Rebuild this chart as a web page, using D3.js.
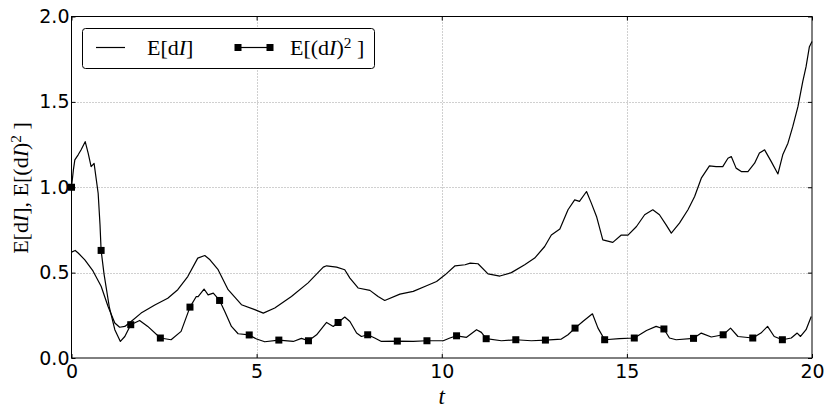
<!DOCTYPE html>
<html>
<head>
<meta charset="utf-8">
<script src="https://cdn.jsdelivr.net/npm/d3@7"></script>
<style>
  body { margin: 0; background: #fff; }
  svg { display: block; }
</style>
</head>
<body>
<svg id="chart" width="831" height="415"></svg>
<script>
// E[dI]
const meanT = [0, 0.10, 0.18, 0.36, 0.58, 0.80, 0.99, 1.17, 1.30, 1.44, 1.61, 1.88, 2.25, 2.60, 2.87, 3.14, 3.41, 3.60, 3.74, 3.96,
  4.23, 4.59, 4.95, 5.18, 5.49, 5.94, 6.39, 6.80, 6.89, 7.16, 7.38, 7.52, 7.74, 8.06, 8.28, 8.46, 8.87, 9.23, 9.59, 9.86,
  10.09, 10.36, 10.63, 10.77, 10.98, 11.25, 11.57, 11.88, 12.24, 12.51, 12.78, 12.96, 13.19, 13.41, 13.59, 13.72, 13.91, 14.04, 14.18, 14.35,
  14.62, 14.85, 15.03, 15.26, 15.48, 15.70, 15.88, 16.06, 16.20, 16.42, 16.65, 16.83, 17.01, 17.23, 17.41, 17.59, 17.73, 17.82, 17.95, 18.09,
  18.27, 18.45, 18.58, 18.72, 18.90, 19.08, 19.21, 19.35, 19.48, 19.62, 19.75, 19.84, 19.93, 20.00]
const meanV = [0.62, 0.63, 0.615, 0.575, 0.51, 0.42, 0.30, 0.205, 0.18, 0.185, 0.214, 0.263, 0.31, 0.35, 0.40, 0.477, 0.585, 0.60, 0.575, 0.517,
  0.40, 0.312, 0.283, 0.263, 0.293, 0.36, 0.44, 0.532, 0.54, 0.532, 0.517, 0.468, 0.41, 0.396, 0.36, 0.337, 0.374, 0.39, 0.423, 0.448,
  0.487, 0.54, 0.546, 0.556, 0.552, 0.493, 0.48, 0.50, 0.546, 0.585, 0.653, 0.72, 0.755, 0.868, 0.926, 0.917, 0.975, 0.907, 0.829, 0.692,
  0.677, 0.72, 0.72, 0.77, 0.839, 0.868, 0.839, 0.78, 0.731, 0.79, 0.868, 0.946, 1.053, 1.125, 1.121, 1.121, 1.17, 1.18, 1.112, 1.092,
  1.092, 1.141, 1.20, 1.219, 1.15, 1.078, 1.19, 1.258, 1.355, 1.472, 1.618, 1.706, 1.823, 1.853]

// E[(dI)^2] line points between the markers
const sqT = [0.05, 0.09, 0.18, 0.26, 0.37, 0.45, 0.53, 0.61, 0.72, 0.77, 0.88, 1.02, 1.17, 1.32, 1.44, 1.84, 2.06, 2.69, 2.96, 3.37,
  3.42, 3.58, 3.69, 3.83, 4.14, 4.32, 4.50, 5.00, 5.22, 5.99, 6.21, 6.62, 6.84, 6.89, 7.07, 7.38, 7.52, 7.70, 7.83, 8.19,
  8.37, 9.23, 10.04, 10.22, 10.67, 10.94, 11.07, 11.61, 12.42, 13.23, 13.41, 13.81, 14.07, 14.22, 14.80, 15.53, 15.79, 16.15, 16.33, 17.01,
  17.28, 17.80, 18.00, 18.62, 18.80, 18.98, 19.44, 19.60, 19.69, 19.84, 19.98]
const sqV = [1.10, 1.16, 1.19, 1.22, 1.267, 1.20, 1.121, 1.14, 0.965, 0.78, 0.49, 0.30, 0.166, 0.097, 0.126, 0.22, 0.185, 0.107, 0.156, 0.36,
  0.36, 0.404, 0.37, 0.38, 0.273, 0.185, 0.142, 0.111, 0.095, 0.097, 0.115, 0.136, 0.195, 0.208, 0.185, 0.24, 0.214, 0.146, 0.126, 0.117,
  0.097, 0.097, 0.101, 0.117, 0.121, 0.166, 0.15, 0.101, 0.101, 0.111, 0.136, 0.214, 0.259, 0.175, 0.113, 0.161, 0.185, 0.117, 0.107, 0.146,
  0.123, 0.175, 0.126, 0.146, 0.185, 0.126, 0.117, 0.146, 0.126, 0.166, 0.243]

// marker positions of E[(dI)^2]
const markT = [0, 0.8, 1.6, 2.4, 3.2, 4.0, 4.8, 5.6, 6.4, 7.2, 8.0, 8.8, 9.6, 10.4, 11.2, 12.0, 12.8, 13.6, 14.4, 15.2, 16.0, 16.8, 17.6, 18.4, 19.2]
const markV = [1.0, 0.63, 0.195, 0.117, 0.298, 0.337, 0.135, 0.105, 0.101, 0.208, 0.136, 0.099, 0.101, 0.13, 0.113, 0.107, 0.105, 0.175, 0.107, 0.117, 0.17, 0.115, 0.136, 0.117, 0.107]

const xTicks = [0, 5, 10, 15, 20]
const yTicks = [0.0, 0.5, 1.0, 1.5, 2.0]

const pLeft = 71.5
const pRight = 812
const pTop = 16.5
const pBottom = 358

const svg = d3.select('#chart')

const x = d3.scaleLinear().domain([0, 20]).range([pLeft, pRight])
const y = d3.scaleLinear().domain([0, 2]).range([pBottom, pTop])

// grid
const grid = svg.append('g')
  .attr('stroke', '#a0a0a0')
  .attr('stroke-width', 1)
  .attr('stroke-dasharray', '1,2')
grid.selectAll('line.gx')
  .data(xTicks.slice(1, -1))
  .enter().append('line')
  .attr('x1', d => Math.round(x(d)) + 0.5).attr('x2', d => Math.round(x(d)) + 0.5)
  .attr('y1', pTop).attr('y2', pBottom)
grid.selectAll('line.gy')
  .data(yTicks.slice(1, -1))
  .enter().append('line')
  .attr('y1', d => Math.round(y(d)) + 0.5).attr('y2', d => Math.round(y(d)) + 0.5)
  .attr('x1', pLeft).attr('x2', pRight)

// series
const meanData = meanT.map((t, i) => [t, meanV[i]])
const sqData = sqT.map((t, i) => [t, sqV[i]])
  .concat(markT.map((t, i) => [t, markV[i]]))
  .sort((a, b) => a[0] - b[0])

const line = d3.line().x(d => x(d[0])).y(d => y(d[1]))

const plot = svg.append('g')
plot.append('path')
  .datum(meanData)
  .attr('d', line)
  .attr('fill', 'none')
  .attr('stroke', '#000')
  .attr('stroke-width', 1.2)
  .attr('stroke-linejoin', 'round')

plot.append('path')
  .datum(sqData)
  .attr('d', line)
  .attr('fill', 'none')
  .attr('stroke', '#000')
  .attr('stroke-width', 1.2)
  .attr('stroke-linejoin', 'round')

const ms = 7
plot.selectAll('rect.mk')
  .data(markT.map((t, i) => [t, markV[i]]))
  .enter().append('rect')
  .attr('x', d => x(d[0]) - ms / 2)
  .attr('y', d => y(d[1]) - ms / 2)
  .attr('width', ms)
  .attr('height', ms)
  .attr('fill', '#000')

// axes frame and inward ticks
const axX = d3.axisBottom(x).tickValues(xTicks).tickSizeInner(-4).tickSizeOuter(0).tickPadding(7)
const axY = d3.axisLeft(y).tickValues(yTicks).tickSizeInner(-4).tickSizeOuter(0).tickPadding(2).tickFormat(d3.format('.1f'))
const axXt = d3.axisTop(x).tickValues(xTicks).tickSizeInner(-4).tickSizeOuter(0).tickFormat('')
const axYr = d3.axisRight(y).tickValues(yTicks).tickSizeInner(-4).tickSizeOuter(0).tickFormat('')

function style (g) {
  g.select('.domain').remove()
  g.selectAll('line').attr('stroke', '#000')
  g.selectAll('text')
    .attr('fill', '#000')
    .style('font-family', 'DejaVu Sans')
    .style('font-size', '19px')
}

svg.append('g').attr('transform', `translate(0,${pBottom})`).call(axX).call(style)
svg.append('g').attr('transform', `translate(${pLeft},0)`).call(axY).call(style)
svg.append('g').attr('transform', `translate(0,${pTop})`).call(axXt).call(style)
svg.append('g').attr('transform', `translate(${pRight},0)`).call(axYr).call(style)

svg.append('rect')
  .attr('x', pLeft).attr('y', pTop)
  .attr('width', pRight - pLeft).attr('height', pBottom - pTop)
  .attr('fill', 'none')
  .attr('stroke', '#000')
  .attr('stroke-width', 1)

// axis labels
svg.append('text')
  .attr('x', x(10)).attr('y', 404)
  .attr('text-anchor', 'middle')
  .style('font-family', 'Liberation Serif')
  .style('font-style', 'italic')
  .style('font-size', '23px')
  .text('t')

function mathLabel (sel, withFirst) {
  // E[dI], E[(dI)^2 ]
  if (withFirst) {
    sel.append('tspan').text('E[d')
    sel.append('tspan').style('font-style', 'italic').text('I')
    sel.append('tspan').text('], E[(d')
  } else {
    sel.append('tspan').text('E[(d')
  }
  sel.append('tspan').style('font-style', 'italic').text('I')
  sel.append('tspan').text(')')
  sel.append('tspan').attr('baseline-shift', '45%').style('font-size', '70%').text('2')
  sel.append('tspan').text(' ]')
}

const ylab = svg.append('text')
  .attr('transform', 'translate(28,188) rotate(-90)')
  .attr('text-anchor', 'middle')
  .style('font-family', 'Liberation Serif')
  .style('font-size', '22px')
mathLabel(ylab, true)

// legend
const lg = svg.append('g')
lg.append('rect')
  .attr('x', 82.5).attr('y', 28.5)
  .attr('width', 292).attr('height', 40)
  .attr('rx', 3)
  .attr('fill', '#fff')
  .attr('stroke', '#000')
  .attr('stroke-width', 1)
lg.append('line')
  .attr('x1', 96).attr('x2', 125).attr('y1', 47.5).attr('y2', 47.5)
  .attr('stroke', '#000').attr('stroke-width', 1.2)
const t1 = lg.append('text')
  .attr('x', 147).attr('y', 55)
  .style('font-family', 'Liberation Serif')
  .style('font-size', '22px')
t1.append('tspan').text('E[d')
t1.append('tspan').style('font-style', 'italic').text('I')
t1.append('tspan').text(']')
lg.append('line')
  .attr('x1', 238).attr('x2', 270).attr('y1', 47.5).attr('y2', 47.5)
  .attr('stroke', '#000').attr('stroke-width', 1.2)
lg.selectAll('rect.lm')
  .data([238, 270])
  .enter().append('rect')
  .attr('x', d => d - ms / 2).attr('y', 47.5 - ms / 2)
  .attr('width', ms).attr('height', ms)
  .attr('fill', '#000')
const t2 = lg.append('text')
  .attr('x', 290).attr('y', 55)
  .style('font-family', 'Liberation Serif')
  .style('font-size', '22px')
mathLabel(t2, false)
</script>
</body>
</html>
